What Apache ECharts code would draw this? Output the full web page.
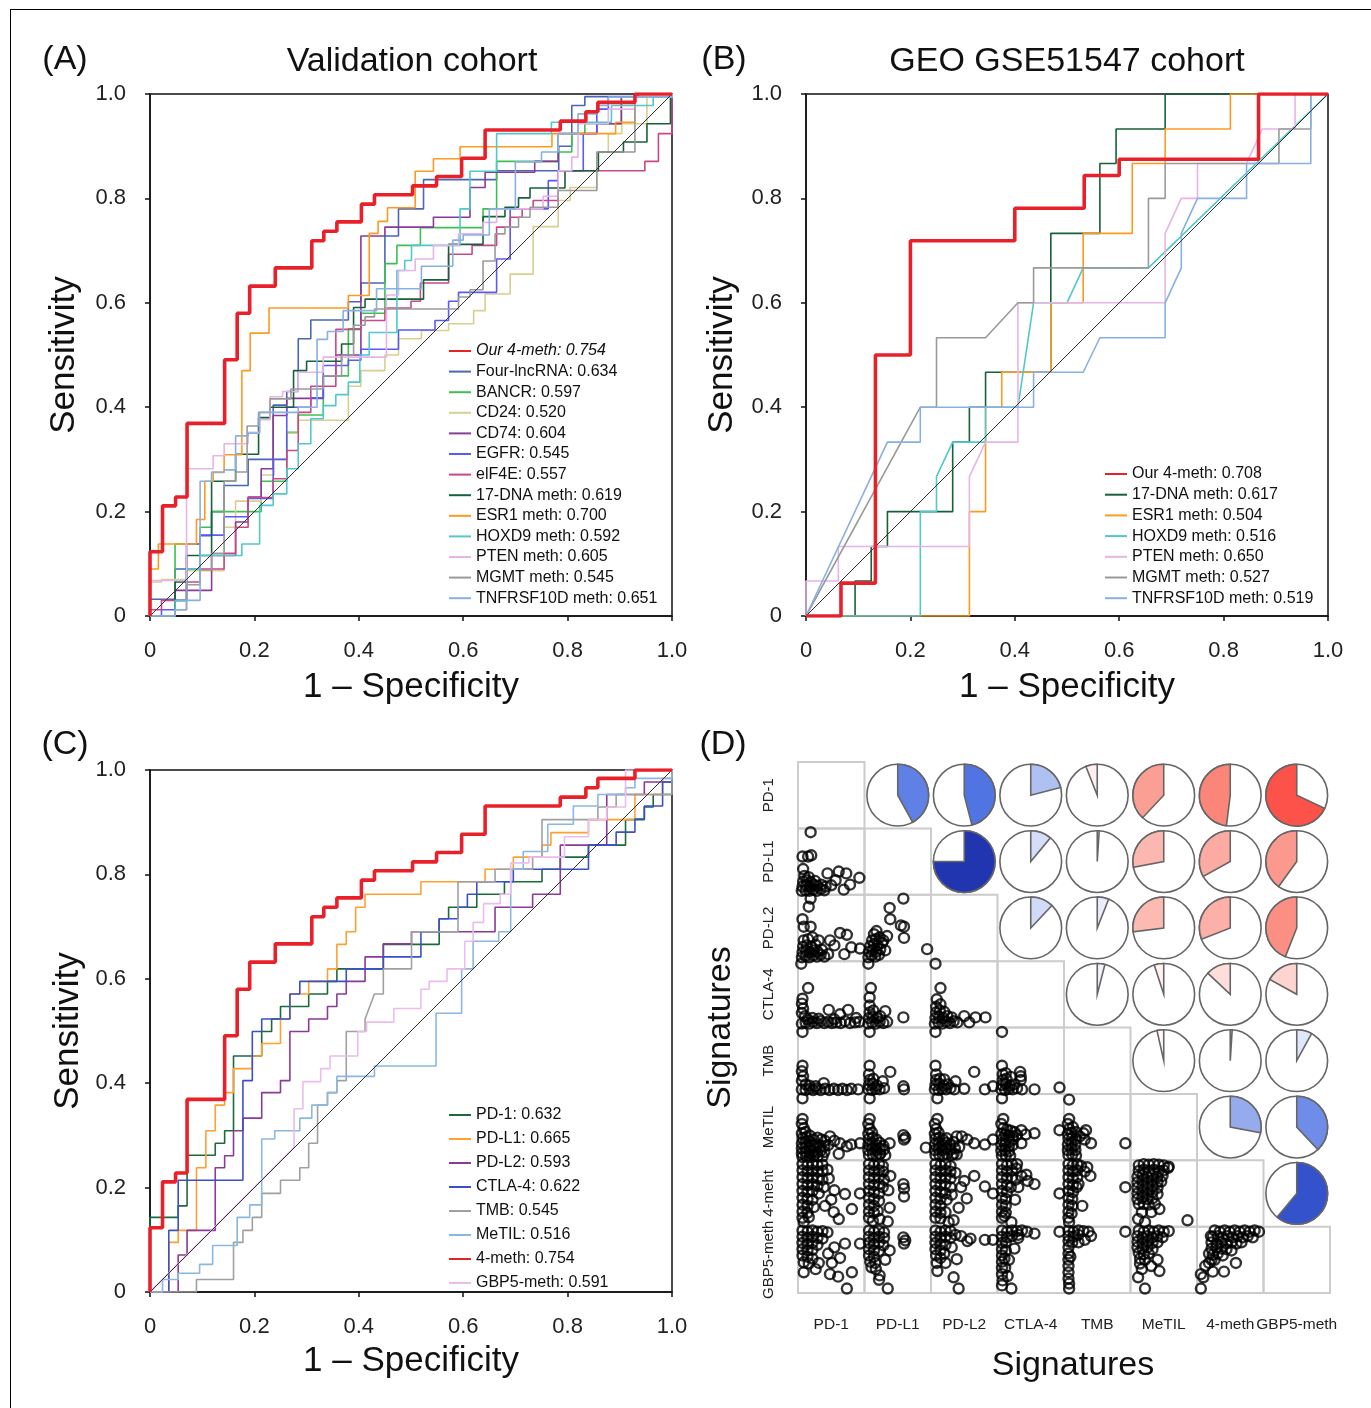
<!DOCTYPE html>
<html>
<head>
<meta charset="utf-8">
<script src="https://cdn.jsdelivr.net/npm/echarts@6/dist/echarts.min.js"></script>
<style>
  html, body { margin: 0; padding: 0; background: #fff; }
  #chart { width: 1371px; height: 1408px; }
  #frame { position: absolute; left: 10px; top: 9px; right: 0; bottom: 0;
           border-top: 1.5px solid #000; border-left: 1.5px solid #000; pointer-events: none; }
</style>
</head>
<body>
<div id="chart"></div>
<div id="frame"></div>
<script>
// ══════════════════════════════════════════════════════
// 数据：ROC 曲线（从图中读取的折线拐点）
// ══════════════════════════════════════════════════════
// 4-meth 曲线，(A)(C) 两幅共用
var curve4meth = [[0,0],[0,0.123],[0.024,0.123],[0.024,0.211],[0.049,0.211],[0.049,0.228],[0.071,0.228],[0.071,0.369],[0.143,0.369],[0.143,0.491],[0.167,0.491],[0.167,0.58],[0.191,0.58],[0.191,0.632],[0.24,0.632],[0.24,0.667],[0.31,0.667],[0.31,0.719],[0.333,0.719],[0.333,0.737],[0.358,0.737],[0.358,0.755],[0.405,0.755],[0.405,0.789],[0.43,0.789],[0.43,0.807],[0.503,0.807],[0.503,0.824],[0.549,0.824],[0.549,0.842],[0.597,0.842],[0.597,0.877],[0.642,0.877],[0.642,0.931],[0.786,0.931],[0.786,0.948],[0.835,0.948],[0.835,0.966],[0.858,0.966],[0.858,0.984],[0.929,0.984],[0.929,1],[1,1]];

// (A) Validation cohort
var aFourLnc = [[0,0],[0,0.032],[0.048,0.032],[0.048,0.09],[0.096,0.09],[0.096,0.154],[0.118,0.154],[0.118,0.2],[0.142,0.2],[0.142,0.25],[0.188,0.25],[0.188,0.3],[0.236,0.3],[0.236,0.404],[0.262,0.404],[0.262,0.43],[0.284,0.43],[0.284,0.531],[0.308,0.531],[0.308,0.567],[0.38,0.567],[0.38,0.602],[0.404,0.602],[0.404,0.638],[0.45,0.638],[0.45,0.728],[0.476,0.728],[0.476,0.78],[0.524,0.78],[0.524,0.836],[0.664,0.836],[0.664,0.853],[0.783,0.853],[0.783,0.9],[0.808,0.9],[0.808,0.978],[0.833,0.978],[0.833,0.995],[0.935,0.995],[0.935,1],[1,1]];
var aBANCR = [[0,0],[0.048,0],[0.048,0.138],[0.096,0.138],[0.096,0.17],[0.118,0.17],[0.118,0.2],[0.213,0.2],[0.213,0.258],[0.262,0.258],[0.262,0.352],[0.284,0.352],[0.284,0.385],[0.332,0.385],[0.332,0.46],[0.38,0.46],[0.38,0.55],[0.404,0.55],[0.404,0.58],[0.45,0.58],[0.45,0.675],[0.473,0.675],[0.473,0.71],[0.518,0.71],[0.518,0.744],[0.638,0.744],[0.638,0.78],[0.664,0.78],[0.664,0.871],[0.782,0.871],[0.782,0.889],[0.808,0.889],[0.808,0.924],[0.833,0.924],[0.833,0.943],[0.903,0.943],[0.903,0.994],[1,0.994],[1,1]];
var aCD24 = [[0,0],[0,0.065],[0.022,0.065],[0.022,0.07],[0.07,0.07],[0.07,0.087],[0.142,0.087],[0.142,0.17],[0.164,0.17],[0.164,0.22],[0.213,0.22],[0.213,0.27],[0.238,0.27],[0.238,0.3],[0.262,0.3],[0.262,0.35],[0.284,0.35],[0.284,0.375],[0.38,0.375],[0.38,0.44],[0.404,0.44],[0.404,0.47],[0.45,0.47],[0.45,0.5],[0.476,0.5],[0.476,0.531],[0.52,0.531],[0.52,0.547],[0.572,0.547],[0.572,0.56],[0.62,0.56],[0.62,0.585],[0.642,0.585],[0.642,0.617],[0.69,0.617],[0.69,0.655],[0.734,0.655],[0.734,0.746],[0.782,0.746],[0.782,0.796],[0.805,0.796],[0.805,0.821],[0.856,0.821],[0.856,0.889],[0.878,0.889],[0.878,0.924],[0.904,0.924],[0.904,0.943],[0.952,0.943],[0.952,0.994],[1,0.994],[1,1]];
var aCD74 = [[0,0],[0.048,0],[0.048,0.049],[0.118,0.049],[0.118,0.116],[0.164,0.116],[0.164,0.18],[0.188,0.18],[0.188,0.228],[0.213,0.228],[0.213,0.282],[0.236,0.282],[0.236,0.384],[0.262,0.384],[0.262,0.417],[0.332,0.417],[0.332,0.46],[0.356,0.46],[0.356,0.5],[0.404,0.5],[0.404,0.728],[0.45,0.728],[0.45,0.745],[0.543,0.745],[0.543,0.764],[0.613,0.764],[0.613,0.821],[0.642,0.821],[0.642,0.85],[0.737,0.85],[0.737,0.871],[0.782,0.871],[0.782,0.924],[0.856,0.924],[0.856,0.943],[0.903,0.943],[0.903,0.994],[1,0.994],[1,1]];
var aEGFR = [[0,0],[0.022,0],[0.022,0.012],[0.048,0.012],[0.048,0.03],[0.07,0.03],[0.07,0.138],[0.096,0.138],[0.096,0.155],[0.142,0.155],[0.142,0.19],[0.188,0.19],[0.188,0.225],[0.236,0.225],[0.236,0.3],[0.262,0.3],[0.262,0.4],[0.308,0.4],[0.308,0.418],[0.332,0.418],[0.332,0.48],[0.38,0.48],[0.38,0.49],[0.404,0.49],[0.404,0.511],[0.476,0.511],[0.476,0.548],[0.546,0.548],[0.546,0.566],[0.572,0.566],[0.572,0.603],[0.591,0.603],[0.591,0.62],[0.664,0.62],[0.664,0.684],[0.69,0.684],[0.69,0.78],[0.763,0.78],[0.763,0.834],[0.782,0.834],[0.782,0.853],[0.83,0.853],[0.83,0.924],[0.856,0.924],[0.856,0.971],[0.878,0.971],[0.878,0.994],[1,0.994],[1,1]];
var aEIF4E = [[0,0],[0,0.012],[0.022,0.012],[0.022,0.03],[0.07,0.03],[0.07,0.065],[0.096,0.065],[0.096,0.09],[0.142,0.09],[0.142,0.12],[0.164,0.12],[0.164,0.17],[0.188,0.17],[0.188,0.227],[0.236,0.227],[0.236,0.263],[0.262,0.263],[0.262,0.317],[0.284,0.317],[0.284,0.39],[0.308,0.39],[0.308,0.44],[0.356,0.44],[0.356,0.549],[0.404,0.549],[0.404,0.566],[0.45,0.566],[0.45,0.59],[0.5,0.59],[0.5,0.603],[0.518,0.603],[0.518,0.638],[0.572,0.638],[0.572,0.693],[0.617,0.693],[0.617,0.71],[0.664,0.71],[0.664,0.745],[0.69,0.745],[0.69,0.764],[0.713,0.764],[0.713,0.78],[0.734,0.78],[0.734,0.796],[0.782,0.796],[0.782,0.853],[0.948,0.853],[0.948,0.871],[0.974,0.871],[0.974,0.924],[1,0.924],[1,1]];
var aDNA17 = [[0,0],[0.048,0],[0.048,0.065],[0.07,0.065],[0.07,0.116],[0.118,0.116],[0.118,0.258],[0.164,0.258],[0.164,0.31],[0.208,0.31],[0.208,0.38],[0.23,0.38],[0.23,0.4],[0.275,0.4],[0.275,0.47],[0.3,0.47],[0.3,0.488],[0.367,0.488],[0.367,0.521],[0.39,0.521],[0.39,0.591],[0.412,0.591],[0.412,0.607],[0.524,0.607],[0.524,0.644],[0.572,0.644],[0.572,0.712],[0.638,0.712],[0.638,0.765],[0.68,0.765],[0.68,0.783],[0.706,0.783],[0.706,0.801],[0.728,0.801],[0.728,0.82],[0.795,0.82],[0.795,0.853],[0.859,0.853],[0.859,0.889],[0.907,0.889],[0.907,0.908],[0.952,0.908],[0.952,0.943],[0.997,0.943],[0.997,1],[1,1]];
var aESR1 = [[0,0],[0,0.09],[0.016,0.09],[0.016,0.138],[0.089,0.138],[0.089,0.185],[0.105,0.185],[0.105,0.258],[0.121,0.258],[0.121,0.275],[0.142,0.275],[0.142,0.309],[0.176,0.309],[0.176,0.47],[0.192,0.47],[0.192,0.542],[0.228,0.542],[0.228,0.59],[0.38,0.59],[0.38,0.614],[0.42,0.614],[0.42,0.733],[0.437,0.733],[0.437,0.756],[0.455,0.756],[0.455,0.782],[0.508,0.782],[0.508,0.852],[0.543,0.852],[0.543,0.876],[0.594,0.876],[0.594,0.899],[0.77,0.899],[0.77,0.924],[0.892,0.924],[0.892,0.946],[0.929,0.946],[0.929,0.994],[1,0.994],[1,1]];
var aHOXD9 = [[0,0],[0.048,0],[0.048,0.03],[0.07,0.03],[0.07,0.09],[0.096,0.09],[0.096,0.116],[0.176,0.116],[0.176,0.138],[0.21,0.138],[0.21,0.212],[0.236,0.212],[0.236,0.234],[0.262,0.234],[0.262,0.282],[0.284,0.282],[0.284,0.33],[0.308,0.33],[0.308,0.378],[0.332,0.378],[0.332,0.403],[0.356,0.403],[0.356,0.424],[0.38,0.424],[0.38,0.448],[0.402,0.448],[0.402,0.5],[0.42,0.5],[0.42,0.543],[0.473,0.543],[0.473,0.662],[0.488,0.662],[0.488,0.681],[0.501,0.681],[0.501,0.71],[0.594,0.71],[0.594,0.78],[0.613,0.78],[0.613,0.852],[0.664,0.852],[0.664,0.924],[0.769,0.924],[0.769,0.946],[0.884,0.946],[0.884,0.978],[0.964,0.978],[0.964,0.994],[1,0.994],[1,1]];
var aPTEN = [[0,0],[0,0.068],[0.07,0.068],[0.07,0.282],[0.121,0.282],[0.121,0.307],[0.142,0.307],[0.142,0.33],[0.188,0.33],[0.188,0.352],[0.21,0.352],[0.21,0.376],[0.23,0.376],[0.23,0.42],[0.254,0.42],[0.254,0.43],[0.284,0.43],[0.284,0.467],[0.332,0.467],[0.332,0.496],[0.453,0.496],[0.453,0.615],[0.476,0.615],[0.476,0.662],[0.508,0.662],[0.508,0.684],[0.543,0.684],[0.543,0.71],[0.591,0.71],[0.591,0.732],[0.638,0.732],[0.638,0.754],[0.664,0.754],[0.664,0.78],[0.753,0.78],[0.753,0.804],[0.782,0.804],[0.782,0.853],[0.808,0.853],[0.808,0.879],[0.82,0.879],[0.82,0.943],[0.878,0.943],[0.878,0.971],[0.929,0.971],[0.929,0.994],[1,0.994],[1,1]];
var aMGMT = [[0,0],[0.048,0],[0.048,0.012],[0.07,0.012],[0.07,0.06],[0.096,0.06],[0.096,0.088],[0.118,0.088],[0.118,0.12],[0.142,0.12],[0.142,0.258],[0.164,0.258],[0.164,0.276],[0.186,0.276],[0.186,0.364],[0.208,0.364],[0.208,0.39],[0.23,0.39],[0.23,0.416],[0.27,0.416],[0.27,0.435],[0.332,0.435],[0.332,0.46],[0.367,0.46],[0.367,0.5],[0.39,0.5],[0.39,0.557],[0.412,0.557],[0.412,0.573],[0.43,0.573],[0.43,0.588],[0.591,0.588],[0.591,0.611],[0.613,0.611],[0.613,0.625],[0.638,0.625],[0.638,0.68],[0.661,0.68],[0.661,0.732],[0.68,0.732],[0.68,0.745],[0.706,0.745],[0.706,0.764],[0.728,0.764],[0.728,0.783],[0.782,0.783],[0.782,0.815],[0.856,0.815],[0.856,0.889],[0.929,0.889],[0.929,0.994],[1,0.994],[1,1]];
var aTNF = [[0,0],[0.048,0],[0.048,0.012],[0.07,0.012],[0.07,0.03],[0.096,0.03],[0.096,0.258],[0.118,0.258],[0.118,0.276],[0.142,0.276],[0.142,0.28],[0.164,0.28],[0.164,0.345],[0.188,0.345],[0.188,0.35],[0.21,0.35],[0.21,0.39],[0.284,0.39],[0.284,0.4],[0.32,0.4],[0.32,0.53],[0.34,0.53],[0.34,0.545],[0.37,0.545],[0.37,0.585],[0.434,0.585],[0.434,0.627],[0.52,0.627],[0.52,0.67],[0.58,0.67],[0.58,0.72],[0.6,0.72],[0.6,0.73],[0.65,0.73],[0.65,0.78],[0.7,0.78],[0.7,0.87],[0.75,0.87],[0.75,0.889],[0.782,0.889],[0.782,0.924],[0.82,0.924],[0.82,0.962],[0.856,0.962],[0.856,0.978],[0.878,0.978],[0.878,0.994],[1,0.994],[1,1]];

// (B) GEO GSE51547 cohort
var bOur4meth = [[0,0],[0.067,0],[0.067,0.063],[0.133,0.063],[0.133,0.5],[0.2,0.5],[0.2,0.719],[0.4,0.719],[0.4,0.781],[0.533,0.781],[0.533,0.844],[0.6,0.844],[0.6,0.875],[0.867,0.875],[0.867,1],[1,1]];
var bDNA17 = [[0,0],[0.094,0],[0.094,0.067],[0.125,0.067],[0.125,0.133],[0.156,0.133],[0.156,0.2],[0.281,0.2],[0.281,0.333],[0.313,0.333],[0.313,0.4],[0.344,0.4],[0.344,0.467],[0.469,0.467],[0.469,0.733],[0.563,0.733],[0.563,0.867],[0.594,0.867],[0.594,0.933],[0.688,0.933],[0.688,1],[1,1]];
var bESR1 = [[0,0],[0.313,0],[0.313,0.2],[0.344,0.2],[0.344,0.4],[0.375,0.4],[0.375,0.467],[0.469,0.467],[0.469,0.6],[0.531,0.6],[0.531,0.733],[0.625,0.733],[0.625,0.867],[0.688,0.867],[0.688,0.933],[0.813,0.933],[0.813,1],[1,1]];
var bHOXD9 = [[0,0],[0.219,0],[0.219,0.2],[0.25,0.2],[0.25,0.267],[0.281,0.333],[0.344,0.333],[0.344,0.4],[0.406,0.4],[0.436,0.6],[0.5,0.6],[0.531,0.667],[0.656,0.667],[1,1]];
var bPTEN = [[0,0],[0,0.067],[0.062,0.067],[0.062,0.133],[0.313,0.133],[0.313,0.267],[0.344,0.333],[0.406,0.333],[0.406,0.6],[0.688,0.6],[0.688,0.733],[0.719,0.8],[0.75,0.8],[0.75,0.867],[0.844,0.867],[0.874,0.933],[0.937,0.933],[0.937,1],[1,1]];
var bMGMT = [[0,0],[0.219,0.4],[0.25,0.4],[0.25,0.533],[0.344,0.533],[0.406,0.6],[0.436,0.6],[0.436,0.667],[0.656,0.667],[0.656,0.8],[0.688,0.8],[0.688,0.867],[0.906,0.867],[0.906,0.933],[0.967,0.933],[0.967,1],[1,1]];
var bTNF = [[0,0],[0.156,0.333],[0.219,0.333],[0.219,0.4],[0.436,0.4],[0.436,0.467],[0.531,0.467],[0.563,0.533],[0.688,0.533],[0.688,0.6],[0.719,0.667],[0.719,0.733],[0.75,0.8],[0.844,0.8],[0.844,0.867],[0.967,0.867],[0.967,1],[1,1]];

// (C) 免疫检查点对比
var cPD1 = [[0,0],[0,0.143],[0.054,0.143],[0.054,0.165],[0.071,0.165],[0.071,0.262],[0.125,0.262],[0.125,0.285],[0.143,0.285],[0.143,0.309],[0.16,0.309],[0.16,0.452],[0.214,0.452],[0.214,0.499],[0.233,0.499],[0.233,0.523],[0.25,0.523],[0.25,0.547],[0.304,0.547],[0.304,0.571],[0.34,0.571],[0.34,0.595],[0.358,0.595],[0.358,0.619],[0.447,0.619],[0.447,0.666],[0.554,0.666],[0.554,0.715],[0.572,0.715],[0.572,0.737],[0.626,0.737],[0.626,0.762],[0.679,0.762],[0.679,0.786],[0.751,0.786],[0.751,0.81],[0.786,0.81],[0.786,0.833],[0.84,0.833],[0.84,0.856],[0.911,0.856],[0.911,0.905],[0.947,0.905],[0.947,0.929],[0.964,0.929],[0.964,0.953],[1,0.953],[1,1]];
var cPDL1 = [[0,0],[0.036,0],[0.036,0.095],[0.054,0.095],[0.054,0.118],[0.089,0.118],[0.089,0.238],[0.107,0.238],[0.107,0.309],[0.125,0.309],[0.125,0.358],[0.143,0.358],[0.143,0.382],[0.16,0.382],[0.16,0.428],[0.196,0.428],[0.196,0.452],[0.214,0.452],[0.214,0.476],[0.25,0.476],[0.25,0.523],[0.268,0.523],[0.268,0.571],[0.304,0.571],[0.304,0.595],[0.34,0.595],[0.34,0.619],[0.358,0.619],[0.358,0.666],[0.376,0.666],[0.376,0.69],[0.394,0.69],[0.394,0.737],[0.412,0.737],[0.412,0.762],[0.519,0.762],[0.519,0.786],[0.642,0.786],[0.642,0.81],[0.696,0.81],[0.696,0.833],[0.751,0.833],[0.751,0.856],[0.768,0.856],[0.768,0.88],[0.84,0.88],[0.84,0.905],[0.929,0.905],[0.929,0.953],[0.982,0.953],[0.982,0.984],[1,0.984],[1,1]];
var cPDL2 = [[0,0],[0.054,0],[0.054,0.071],[0.071,0.071],[0.071,0.118],[0.125,0.118],[0.125,0.238],[0.143,0.238],[0.143,0.261],[0.16,0.261],[0.16,0.309],[0.178,0.309],[0.178,0.333],[0.214,0.333],[0.214,0.382],[0.25,0.382],[0.25,0.405],[0.268,0.405],[0.268,0.499],[0.304,0.499],[0.304,0.523],[0.34,0.523],[0.34,0.547],[0.358,0.547],[0.358,0.571],[0.376,0.571],[0.376,0.595],[0.412,0.595],[0.412,0.642],[0.447,0.642],[0.447,0.667],[0.501,0.667],[0.501,0.69],[0.661,0.69],[0.661,0.737],[0.733,0.737],[0.733,0.762],[0.786,0.762],[0.786,0.856],[0.875,0.856],[0.875,0.953],[0.947,0.953],[0.947,0.977],[1,0.977],[1,1]];
var cCTLA4 = [[0,0],[0.036,0],[0.036,0.118],[0.054,0.118],[0.054,0.214],[0.178,0.214],[0.178,0.405],[0.196,0.405],[0.196,0.499],[0.214,0.499],[0.214,0.523],[0.268,0.523],[0.268,0.571],[0.287,0.571],[0.287,0.595],[0.376,0.595],[0.376,0.619],[0.447,0.619],[0.447,0.642],[0.519,0.642],[0.519,0.69],[0.554,0.69],[0.554,0.715],[0.59,0.715],[0.59,0.737],[0.608,0.737],[0.608,0.762],[0.626,0.762],[0.626,0.786],[0.696,0.786],[0.696,0.81],[0.84,0.81],[0.84,0.856],[0.893,0.856],[0.893,0.881],[0.929,0.881],[0.929,0.906],[0.947,0.906],[0.947,0.931],[0.982,0.931],[0.982,0.977],[1,0.977],[1,1]];
var cTMB = [[0,0],[0.089,0],[0.089,0.024],[0.16,0.024],[0.16,0.095],[0.178,0.095],[0.178,0.118],[0.196,0.118],[0.196,0.143],[0.214,0.143],[0.214,0.189],[0.25,0.189],[0.25,0.214],[0.287,0.214],[0.287,0.238],[0.304,0.238],[0.304,0.285],[0.321,0.285],[0.321,0.358],[0.34,0.358],[0.34,0.382],[0.358,0.382],[0.358,0.405],[0.376,0.405],[0.376,0.499],[0.412,0.499],[0.412,0.523],[0.43,0.571],[0.447,0.571],[0.447,0.619],[0.501,0.619],[0.501,0.69],[0.59,0.69],[0.59,0.786],[0.661,0.786],[0.661,0.81],[0.733,0.81],[0.733,0.833],[0.751,0.833],[0.751,0.905],[0.858,0.905],[0.858,0.929],[0.893,0.929],[0.893,0.953],[1,0.953],[1,1]];
var cMeTIL = [[0,0],[0.024,0],[0.024,0.024],[0.054,0.024],[0.054,0.036],[0.095,0.036],[0.095,0.053],[0.12,0.053],[0.12,0.089],[0.167,0.089],[0.167,0.143],[0.191,0.143],[0.191,0.167],[0.214,0.167],[0.214,0.293],[0.239,0.293],[0.239,0.309],[0.287,0.309],[0.287,0.333],[0.31,0.333],[0.31,0.358],[0.34,0.358],[0.34,0.382],[0.358,0.382],[0.358,0.413],[0.43,0.413],[0.43,0.433],[0.548,0.433],[0.548,0.534],[0.597,0.534],[0.597,0.619],[0.619,0.619],[0.619,0.672],[0.668,0.672],[0.668,0.69],[0.691,0.69],[0.691,0.81],[0.715,0.81],[0.715,0.844],[0.762,0.844],[0.762,0.896],[0.811,0.896],[0.811,0.931],[0.858,0.931],[0.858,0.953],[0.911,0.953],[0.911,0.966],[0.929,0.966],[0.929,0.984],[1,0.984],[1,1]];
var cGBP5 = [[0,0],[0.276,0.277],[0.276,0.351],[0.293,0.351],[0.293,0.403],[0.327,0.403],[0.327,0.428],[0.345,0.428],[0.345,0.452],[0.398,0.452],[0.398,0.499],[0.415,0.499],[0.415,0.517],[0.467,0.517],[0.467,0.543],[0.519,0.543],[0.519,0.58],[0.535,0.58],[0.535,0.595],[0.569,0.595],[0.569,0.619],[0.603,0.619],[0.603,0.672],[0.619,0.672],[0.619,0.708],[0.639,0.708],[0.639,0.744],[0.671,0.744],[0.671,0.762],[0.691,0.762],[0.691,0.822],[0.726,0.822],[0.726,0.833],[0.794,0.833],[0.794,0.872],[0.84,0.872],[0.84,0.905],[0.875,0.905],[0.875,0.929],[0.911,0.929],[0.911,1],[1,1]];

// 图例名称与 AUC
var namesA = ["Our 4-meth", "Four-lncRNA", "BANCR", "CD24", "CD74", "EGFR", "elF4E", "17-DNA meth", "ESR1 meth", "HOXD9 meth", "PTEN meth", "MGMT meth", "TNFRSF10D meth"];
var aucA = ["0.754", "0.634", "0.597", "0.520", "0.604", "0.545", "0.557", "0.619", "0.700", "0.592", "0.605", "0.545", "0.651"];
var namesB = ["Our 4-meth", "17-DNA meth", "ESR1 meth", "HOXD9 meth", "PTEN meth", "MGMT meth", "TNFRSF10D meth"];
var aucB = ["0.708", "0.617", "0.504", "0.516", "0.650", "0.527", "0.519"];
var namesC = ["PD-1", "PD-L1", "PD-L2", "CTLA-4", "TMB", "MeTIL", "4-meth", "GBP5-meth"];
var aucC = ["0.632", "0.665", "0.593", "0.622", "0.545", "0.516", "0.754", "0.591"];

// ══════════════════════════════════════════════════════
// 数据：(D) 相关矩阵
// ══════════════════════════════════════════════════════
var signatures = ["PD-1", "PD-L1", "PD-L2", "CTLA-4", "TMB", "MeTIL", "4-meth", "GBP5-meth"];
var rowLabels = ["PD-1", "PD-L1", "PD-L2", "CTLA-4", "TMB", "MeTIL", "4-meht", "GBP5-meth"];
// 上三角：每行从对角线右侧开始的相关系数
var corrPD1 = [0.42, 0.46, 0.21, -0.06, -0.38, -0.48, -0.68];
var corrPDL1 = [0.75, 0.11, 0.01, -0.28, -0.33, -0.40];
var corrPDL2 = [0.12, 0.06, -0.27, -0.31, -0.44];
var corrCTLA4 = [0.04, -0.05, -0.13, -0.17];
var corrTMB = [-0.035, 0.01, 0.08];
var corrMeTIL = [0.28, 0.38];
var corr4meth = [0.61];

// 下三角散点（格内坐标 0..1，u 向右，v 向上），每行从第一列开始
var scatPDL1 = [
  [[0.17,0.97],[0.04,0.58],[0.13,0.58],[0.18,0.6],[0.05,0.38],[0.44,0.31],[0.62,0.34],[0.74,0.31],[0.57,0.2],[0.8,0.13],[0.95,0.24],[0.7,0.05],[0.5,0.12],[0.03,0.03],[0.09,0.04],[0.15,0.03],[0.21,0.05],[0.27,0.03],[0.33,0.06],[0.39,0.04],[0.04,0.1],[0.1,0.12],[0.16,0.1],[0.22,0.13],[0.28,0.11],[0.34,0.13],[0.05,0.18],[0.11,0.2],[0.17,0.17],[0.24,0.19],[0.07,0.27],[0.14,0.25],[0.41,0.1]]
];
var scatPDL2 = [
  [[0.17,0.97],[0.14,0.84],[0.04,0.64],[0.06,0.52],[0.17,0.52],[0.64,0.42],[0.75,0.39],[0.48,0.3],[0.82,0.19],[0.71,0.08],[0.96,0.17],[0.55,0.22],[0.03,0.03],[0.09,0.05],[0.15,0.03],[0.21,0.06],[0.27,0.04],[0.33,0.07],[0.39,0.04],[0.45,0.08],[0.04,0.11],[0.1,0.13],[0.16,0.11],[0.22,0.14],[0.28,0.12],[0.35,0.15],[0.05,0.2],[0.11,0.22],[0.18,0.2],[0.25,0.23],[0.06,0.3],[0.13,0.32],[0.2,0.35],[0.3,0.3]],
  [[0.59,0.97],[0.37,0.82],[0.38,0.64],[0.55,0.54],[0.6,0.52],[0.6,0.34],[0.97,0.16],[0.16,0.45],[0.33,0.37],[0.3,0.14],[0.03,0.03],[0.08,0.06],[0.14,0.04],[0.2,0.07],[0.04,0.12],[0.1,0.14],[0.16,0.12],[0.22,0.16],[0.06,0.21],[0.12,0.23],[0.18,0.22],[0.25,0.26],[0.09,0.3],[0.15,0.32],[0.21,0.35],[0.27,0.3],[0.12,0.4]]
];
var scatCTLA4 = [
  [[0.02,0.99],[0.13,0.6],[0.04,0.43],[0.77,0.25],[0.46,0.25],[0.64,0.18],[0.9,0.12],[0.55,0.1],[0.03,0.35],[0.05,0.27],[0.03,0.2],[0.08,0.15],[0.03,0.03],[0.09,0.05],[0.15,0.03],[0.21,0.06],[0.27,0.04],[0.33,0.07],[0.39,0.04],[0.45,0.06],[0.51,0.04],[0.58,0.05],[0.65,0.04],[0.72,0.07],[0.8,0.04],[0.88,0.05],[0.95,0.06],[0.12,0.1],[0.2,0.12],[0.3,0.11]],
  [[0.03,0.99],[0.07,0.6],[0.3,0.23],[0.59,0.13],[0.05,0.45],[0.03,0.03],[0.09,0.05],[0.15,0.03],[0.21,0.06],[0.27,0.04],[0.33,0.06],[0.04,0.12],[0.1,0.14],[0.17,0.12],[0.05,0.21],[0.11,0.24],[0.05,0.32],[0.22,0.15]],
  [[0.04,0.99],[0.12,0.6],[0.84,0.13],[0.68,0.13],[0.5,0.15],[0.58,0.05],[0.03,0.03],[0.09,0.05],[0.15,0.03],[0.21,0.06],[0.27,0.04],[0.33,0.07],[0.39,0.05],[0.04,0.12],[0.1,0.14],[0.16,0.12],[0.23,0.15],[0.3,0.13],[0.05,0.21],[0.11,0.24],[0.18,0.22],[0.05,0.3],[0.12,0.34],[0.06,0.42]]
];
var scatTMB = [
  [[0.04,0.96],[0.04,0.42],[0.38,0.14],[0.93,0.04],[0.03,0.33],[0.05,0.25],[0.03,0.18],[0.09,0.12],[0.03,0.04],[0.09,0.03],[0.15,0.05],[0.21,0.03],[0.27,0.05],[0.33,0.03],[0.4,0.05],[0.47,0.03],[0.54,0.05],[0.61,0.03],[0.68,0.05],[0.75,0.03],[0.82,0.05],[0.15,0.1],[0.25,0.09]],
  [[0.05,0.96],[0.05,0.42],[0.38,0.32],[0.26,0.17],[0.59,0.09],[0.6,0.04],[0.03,0.04],[0.09,0.03],[0.15,0.05],[0.21,0.04],[0.28,0.06],[0.04,0.11],[0.1,0.13],[0.17,0.1],[0.05,0.19],[0.11,0.21],[0.04,0.28]],
  [[0.04,0.96],[0.04,0.42],[0.66,0.32],[0.36,0.17],[0.83,0.04],[0.96,0.09],[0.5,0.05],[0.03,0.04],[0.09,0.03],[0.15,0.05],[0.21,0.04],[0.28,0.06],[0.34,0.04],[0.04,0.11],[0.1,0.13],[0.17,0.1],[0.24,0.12],[0.05,0.19],[0.11,0.21],[0.18,0.2],[0.05,0.28]],
  [[0.04,0.96],[0.04,0.42],[0.33,0.32],[0.34,0.19],[0.34,0.25],[0.56,0.04],[0.96,0.07],[0.03,0.04],[0.09,0.03],[0.15,0.05],[0.21,0.04],[0.28,0.06],[0.36,0.04],[0.04,0.11],[0.1,0.13],[0.17,0.1],[0.24,0.12],[0.05,0.19],[0.11,0.21],[0.18,0.24],[0.05,0.28],[0.1,0.3]]
];
var scatMeTIL = [
  [[0.04,0.96],[0.04,0.63],[0.48,0.35],[0.64,0.24],[0.75,0.19],[0.82,0.22],[0.96,0.24],[0.62,0.07],[0.55,0.28],[0.03,0.55],[0.06,0.48],[0.03,0.4],[0.09,0.42],[0.04,0.32],[0.1,0.34],[0.16,0.36],[0.03,0.24],[0.09,0.26],[0.15,0.27],[0.22,0.3],[0.28,0.33],[0.34,0.3],[0.4,0.28],[0.03,0.16],[0.09,0.18],[0.15,0.17],[0.21,0.2],[0.27,0.22],[0.33,0.2],[0.39,0.19],[0.45,0.21],[0.03,0.08],[0.09,0.1],[0.15,0.08],[0.21,0.11],[0.27,0.09],[0.33,0.12],[0.39,0.1],[0.04,0.02],[0.1,0.03],[0.16,0.02],[0.22,0.04],[0.28,0.03],[0.36,0.03]],
  [[0.05,0.96],[0.05,0.63],[0.59,0.37],[0.6,0.3],[0.62,0.33],[0.37,0.24],[0.21,0.07],[0.95,0.17],[0.03,0.55],[0.05,0.47],[0.03,0.39],[0.09,0.41],[0.04,0.31],[0.1,0.33],[0.16,0.3],[0.03,0.22],[0.09,0.24],[0.15,0.22],[0.21,0.25],[0.27,0.2],[0.03,0.13],[0.09,0.15],[0.15,0.13],[0.21,0.16],[0.28,0.14],[0.04,0.05],[0.1,0.06],[0.16,0.04],[0.22,0.07],[0.3,0.05]],
  [[0.07,0.96],[0.07,0.63],[0.38,0.35],[0.46,0.35],[0.66,0.24],[0.83,0.22],[0.96,0.3],[0.33,0.07],[0.55,0.3],[0.03,0.55],[0.05,0.47],[0.03,0.39],[0.09,0.41],[0.04,0.31],[0.1,0.33],[0.16,0.3],[0.22,0.32],[0.03,0.22],[0.09,0.24],[0.15,0.22],[0.21,0.25],[0.27,0.22],[0.33,0.26],[0.03,0.13],[0.09,0.15],[0.15,0.13],[0.21,0.16],[0.28,0.14],[0.35,0.16],[0.42,0.18],[0.04,0.05],[0.1,0.06],[0.16,0.04],[0.22,0.07],[0.3,0.05],[0.38,0.06]],
  [[0.04,0.96],[0.06,0.63],[0.35,0.45],[0.56,0.4],[0.35,0.24],[0.96,0.45],[0.42,0.38],[0.03,0.55],[0.06,0.48],[0.12,0.46],[0.18,0.44],[0.24,0.42],[0.03,0.39],[0.09,0.38],[0.15,0.36],[0.21,0.35],[0.28,0.37],[0.04,0.3],[0.1,0.29],[0.16,0.27],[0.22,0.3],[0.03,0.21],[0.09,0.22],[0.15,0.19],[0.21,0.21],[0.03,0.12],[0.09,0.13],[0.15,0.11],[0.04,0.04],[0.1,0.05],[0.17,0.04]],
  [[0.05,0.94],[0.05,0.63],[0.32,0.45],[0.4,0.24],[0.95,0.24],[0.28,0.4],[0.3,0.3],[0.03,0.55],[0.05,0.47],[0.11,0.5],[0.03,0.39],[0.09,0.41],[0.16,0.42],[0.04,0.31],[0.1,0.33],[0.16,0.31],[0.22,0.35],[0.03,0.22],[0.09,0.24],[0.15,0.22],[0.03,0.13],[0.09,0.15],[0.15,0.13],[0.04,0.05],[0.1,0.06],[0.16,0.04]]
];
var scat4meth = [
  [[0.46,0.74],[0.72,0.49],[0.96,0.5],[0.54,0.2],[0.83,0.25],[0.62,0.09],[0.06,0.04],[0.5,0.4],[0.55,0.55],[0.4,0.3],[0.04,0.97],[0.12,0.95],[0.2,0.97],[0.28,0.95],[0.36,0.96],[0.04,0.87],[0.12,0.85],[0.2,0.87],[0.28,0.85],[0.36,0.86],[0.44,0.88],[0.04,0.76],[0.12,0.74],[0.2,0.76],[0.28,0.74],[0.36,0.72],[0.04,0.65],[0.12,0.63],[0.2,0.65],[0.28,0.62],[0.38,0.6],[0.04,0.54],[0.12,0.52],[0.2,0.54],[0.3,0.5],[0.04,0.43],[0.12,0.41],[0.2,0.4],[0.04,0.32],[0.12,0.3],[0.22,0.28],[0.04,0.21],[0.12,0.19],[0.04,0.11],[0.14,0.12]],
  [[0.38,0.78],[0.59,0.65],[0.6,0.45],[0.37,0.27],[0.21,0.09],[0.34,0.05],[0.6,0.58],[0.35,0.55],[0.04,0.97],[0.12,0.95],[0.2,0.97],[0.26,0.94],[0.04,0.87],[0.12,0.85],[0.2,0.87],[0.27,0.85],[0.04,0.76],[0.12,0.74],[0.2,0.76],[0.28,0.72],[0.04,0.65],[0.12,0.63],[0.2,0.65],[0.26,0.6],[0.04,0.54],[0.12,0.52],[0.2,0.5],[0.04,0.43],[0.12,0.41],[0.2,0.38],[0.04,0.32],[0.12,0.3],[0.04,0.21],[0.12,0.19],[0.18,0.22],[0.04,0.11],[0.1,0.06]],
  [[0.66,0.78],[0.83,0.61],[0.54,0.42],[0.41,0.27],[0.33,0.07],[0.96,0.5],[0.25,0.04],[0.5,0.7],[0.45,0.6],[0.04,0.97],[0.12,0.95],[0.2,0.97],[0.28,0.94],[0.04,0.87],[0.12,0.85],[0.2,0.87],[0.28,0.85],[0.36,0.83],[0.04,0.76],[0.12,0.74],[0.2,0.76],[0.28,0.74],[0.04,0.65],[0.12,0.63],[0.2,0.65],[0.28,0.6],[0.04,0.54],[0.12,0.52],[0.2,0.5],[0.3,0.48],[0.04,0.43],[0.12,0.41],[0.22,0.4],[0.04,0.32],[0.12,0.3],[0.04,0.21],[0.12,0.19],[0.2,0.2],[0.04,0.11],[0.12,0.1]],
  [[0.27,0.9],[0.35,0.78],[0.43,0.8],[0.56,0.65],[0.25,0.4],[0.19,0.04],[0.96,0.5],[0.3,0.6],[0.45,0.7],[0.04,0.97],[0.12,0.95],[0.2,0.97],[0.28,0.97],[0.04,0.87],[0.12,0.85],[0.2,0.87],[0.04,0.76],[0.12,0.74],[0.2,0.76],[0.26,0.72],[0.04,0.65],[0.12,0.63],[0.18,0.6],[0.04,0.54],[0.12,0.52],[0.04,0.43],[0.1,0.41],[0.04,0.32],[0.1,0.3],[0.04,0.21],[0.1,0.19],[0.04,0.11],[0.08,0.14]],
  [[0.34,0.92],[0.39,0.78],[0.26,0.3],[0.95,0.6],[0.05,0.04],[0.2,0.65],[0.3,0.85],[0.04,0.97],[0.11,0.95],[0.18,0.97],[0.24,0.94],[0.04,0.87],[0.11,0.85],[0.18,0.87],[0.04,0.76],[0.11,0.74],[0.18,0.76],[0.04,0.65],[0.11,0.63],[0.17,0.6],[0.04,0.54],[0.11,0.52],[0.04,0.43],[0.1,0.41],[0.04,0.32],[0.1,0.3],[0.04,0.21],[0.09,0.18],[0.04,0.11]],
  [[0.43,0.25],[0.09,0.09],[0.2,0.04],[0.88,0.07],[0.57,0.91],[0.3,0.2],[0.15,0.2],[0.1,0.95],[0.18,0.97],[0.26,0.96],[0.34,0.97],[0.42,0.96],[0.5,0.95],[0.58,0.93],[0.1,0.86],[0.18,0.88],[0.26,0.86],[0.34,0.88],[0.42,0.86],[0.5,0.87],[0.08,0.77],[0.16,0.79],[0.24,0.77],[0.32,0.79],[0.4,0.77],[0.48,0.78],[0.08,0.68],[0.16,0.7],[0.24,0.68],[0.32,0.7],[0.4,0.68],[0.46,0.69],[0.08,0.59],[0.16,0.61],[0.24,0.59],[0.32,0.61],[0.4,0.59],[0.08,0.5],[0.16,0.52],[0.24,0.5],[0.32,0.52],[0.4,0.49],[0.08,0.41],[0.16,0.43],[0.24,0.41],[0.32,0.42],[0.1,0.33],[0.18,0.33],[0.26,0.32],[0.36,0.33]]
];
var scatGBP5 = [
  [[0.72,0.76],[0.96,0.76],[0.51,0.45],[0.64,0.53],[0.06,0.3],[0.48,0.27],[0.61,0.23],[0.83,0.3],[0.75,0.04],[0.45,0.6],[0.55,0.7],[0.25,0.35],[0.3,0.45],[0.04,0.97],[0.12,0.95],[0.2,0.97],[0.28,0.95],[0.36,0.96],[0.44,0.94],[0.04,0.87],[0.12,0.85],[0.2,0.87],[0.28,0.85],[0.36,0.84],[0.04,0.77],[0.12,0.75],[0.2,0.77],[0.28,0.74],[0.04,0.67],[0.12,0.65],[0.2,0.66],[0.04,0.57],[0.12,0.55],[0.2,0.52],[0.06,0.46],[0.14,0.44]],
  [[0.59,0.86],[0.6,0.76],[0.62,0.81],[0.37,0.65],[0.21,0.25],[0.34,0.04],[0.3,0.5],[0.15,0.35],[0.2,0.18],[0.04,0.97],[0.12,0.95],[0.2,0.97],[0.28,0.94],[0.04,0.87],[0.12,0.85],[0.2,0.87],[0.28,0.85],[0.04,0.77],[0.12,0.75],[0.2,0.77],[0.27,0.73],[0.04,0.67],[0.12,0.65],[0.2,0.64],[0.04,0.57],[0.12,0.55],[0.06,0.47],[0.14,0.45],[0.08,0.38]],
  [[0.36,0.9],[0.45,0.88],[0.6,0.84],[0.55,0.8],[0.83,0.82],[0.96,0.82],[0.38,0.51],[0.07,0.32],[0.33,0.22],[0.41,0.04],[0.3,0.7],[0.2,0.45],[0.04,0.97],[0.12,0.95],[0.2,0.97],[0.28,0.96],[0.04,0.87],[0.12,0.85],[0.2,0.87],[0.28,0.85],[0.04,0.77],[0.12,0.75],[0.2,0.74],[0.04,0.67],[0.12,0.65],[0.18,0.6],[0.05,0.57],[0.12,0.53],[0.06,0.45]],
  [[0.56,0.92],[0.24,0.68],[0.09,0.37],[0.13,0.24],[0.19,0.04],[0.96,0.95],[0.3,0.85],[0.15,0.5],[0.04,0.97],[0.12,0.95],[0.2,0.97],[0.28,0.96],[0.36,0.97],[0.44,0.95],[0.04,0.87],[0.12,0.86],[0.2,0.88],[0.3,0.9],[0.04,0.77],[0.1,0.78],[0.04,0.67],[0.1,0.65],[0.04,0.57],[0.08,0.52],[0.04,0.47],[0.04,0.37],[0.04,0.27],[0.05,0.17],[0.04,0.09]],
  [[0.4,0.88],[0.95,0.95],[0.05,0.04],[0.2,0.78],[0.3,0.82],[0.04,0.97],[0.12,0.95],[0.2,0.97],[0.28,0.96],[0.36,0.95],[0.04,0.88],[0.12,0.87],[0.2,0.9],[0.04,0.8],[0.1,0.78],[0.04,0.7],[0.04,0.6],[0.07,0.55],[0.04,0.5],[0.04,0.4],[0.04,0.3],[0.04,0.2],[0.05,0.12]],
  [[0.09,0.22],[0.2,0.04],[0.43,0.32],[0.3,0.4],[0.4,0.5],[0.15,0.35],[0.1,0.97],[0.18,0.95],[0.26,0.97],[0.34,0.95],[0.42,0.97],[0.5,0.95],[0.58,0.96],[0.08,0.88],[0.16,0.86],[0.24,0.88],[0.32,0.86],[0.4,0.88],[0.48,0.86],[0.08,0.79],[0.16,0.77],[0.24,0.79],[0.32,0.77],[0.4,0.78],[0.08,0.7],[0.16,0.68],[0.24,0.7],[0.32,0.67],[0.1,0.61],[0.18,0.59],[0.26,0.6],[0.12,0.52],[0.2,0.5],[0.12,0.44]],
  [[0.03,0.27],[0.07,0.22],[0.22,0.31],[0.4,0.31],[0.59,0.45],[0.16,0.6],[0.19,0.88],[0.03,0.04],[0.16,0.45],[0.25,0.5],[0.1,0.4],[0.25,0.97],[0.33,0.95],[0.41,0.97],[0.49,0.95],[0.57,0.97],[0.65,0.95],[0.73,0.97],[0.81,0.95],[0.89,0.97],[0.96,0.95],[0.22,0.87],[0.3,0.88],[0.38,0.86],[0.46,0.88],[0.54,0.86],[0.62,0.88],[0.7,0.86],[0.78,0.88],[0.86,0.86],[0.2,0.78],[0.28,0.76],[0.36,0.78],[0.44,0.76],[0.52,0.78],[0.6,0.76],[0.68,0.78],[0.2,0.68],[0.28,0.7],[0.36,0.68],[0.44,0.67],[0.52,0.65],[0.22,0.58],[0.3,0.6],[0.38,0.57],[0.2,0.5]]
];

// ══════════════════════════════════════════════════════
// 样式配置
// ══════════════════════════════════════════════════════
const FONT = "Liberation Sans, Arial, sans-serif";
const CONFIG = {
    rocA: { grid: { left: 150, top: 94, width: 522, height: 522 }, yNameGap: 68, xNameGap: 54,
            legend: { left: 444, top: 337, gap: 2.6 } },
    rocB: { grid: { left: 806, top: 94, width: 522, height: 522 }, yNameGap: 66, xNameGap: 54,
            legend: { left: 1100, top: 460, gap: 2.7 } },
    rocC: { grid: { left: 150, top: 770, width: 522, height: 522 }, yNameGap: 64, xNameGap: 52,
            legend: { left: 444, top: 1101, gap: 6 } },
    corr: { grid: { left: 798, top: 762, width: 532, height: 531 } },
};
var colorsA = ["#e8202a", "#4a66b8", "#3cc050", "#d8cf90", "#8a3a98", "#5a5af8", "#c84888", "#17603a", "#ff9a20", "#50c8cc", "#e8b4e8", "#9a9a9a", "#88b0e0"];
var colorsB = ["#e8202a", "#17603a", "#ff9a20", "#50c8cc", "#e8b4e8", "#9a9a9a", "#88b0e0"];
var colorsC = ["#1c6a3c", "#ffa030", "#8a3a98", "#3a50c8", "#a0a0a0", "#8ab8e0", "#e8202a", "#ecbcec"];

// ══════════════════════════════════════════════════════
// option 构建器
// ══════════════════════════════════════════════════════
function rocAxes(gi, cfg) {
    var common = {
        type: "value", gridIndex: gi, min: 0, max: 1, interval: 0.2,
        nameLocation: "middle", nameTextStyle: { fontSize: 35, color: "#111", fontFamily: FONT },
        axisLine: { lineStyle: { color: "#111", width: 1.5 } },
        axisTick: { inside: false, length: 5, lineStyle: { color: "#111", width: 1.5 } },
        axisLabel: { fontSize: 22, color: "#222", margin: 24, fontFamily: FONT,
                     formatter: function(v) { return v === 0 ? "0" : v.toFixed(1); } },
        splitLine: { show: false },
    };
    var x = Object.assign({}, common, { name: "1 \u2013 Specificity", nameGap: cfg.xNameGap });
    var y = Object.assign({}, common, { name: "Sensitivity", nameGap: cfg.yNameGap });
    return { x: x, y: y };
}

function rocSeries(gi, curves, names, aucs, colors, thickIdx) {
    var out = [];
    curves.forEach(function(c, i) {
        if (i === thickIdx) return;
        out.push({ type: "line", name: names[i] + ": " + aucs[i], xAxisIndex: gi, yAxisIndex: gi,
                   data: c, showSymbol: false, symbol: "none", animation: false,
                   lineStyle: { color: colors[i], width: 1.6 }, itemStyle: { color: colors[i] } });
    });
    // 对角参考线
    out.push({ type: "line", name: "diag" + gi, xAxisIndex: gi, yAxisIndex: gi, data: [[0, 0], [1, 1]],
               showSymbol: false, symbol: "none", animation: false, lineStyle: { color: "#333", width: 1 } });
    out.push({ type: "line", name: names[thickIdx] + ": " + aucs[thickIdx], xAxisIndex: gi, yAxisIndex: gi,
               data: curves[thickIdx], showSymbol: false, symbol: "none", animation: false,
               lineStyle: { color: colors[thickIdx], width: 3.6 }, itemStyle: { color: colors[thickIdx] } });
    return out;
}

function rocLegend(cfg, names, aucs, italicFirst) {
    var first = names[0] + ": " + aucs[0];
    return {
        orient: "vertical", left: cfg.legend.left, top: cfg.legend.top, itemGap: cfg.legend.gap,
        itemWidth: 22, itemHeight: 2, icon: "rect",
        data: names.map(function(n, i) { return n + ": " + aucs[i]; }),
        textStyle: { fontSize: 16, color: "#111", fontFamily: FONT, lineHeight: 18,
                     rich: { it: { fontStyle: "italic", fontSize: 16, fontFamily: FONT, color: "#111" } } },
        formatter: function(n) { return (italicFirst && n === first) ? "{it|" + n + "}" : n; },
    };
}

function corrColor(r) {
    var stops = [[-1, [255, 0, 0]], [-0.5, [250, 128, 114]], [0, [255, 255, 255]],
                 [0.5, [65, 105, 225]], [1, [0, 0, 128]]];
    for (var i = 0; i < stops.length - 1; i++) {
        var a = stops[i], b = stops[i + 1];
        if (r >= a[0] && r <= b[0]) {
            var t = (r - a[0]) / (b[0] - a[0]);
            var c = a[1].map(function(v, k) { return Math.round(v + (b[1][k] - v) * t); });
            return "rgb(" + c.join(",") + ")";
        }
    }
    return "#fff";
}

function buildCorrSeries() {
    var corrRows = [corrPD1, corrPDL1, corrPDL2, corrCTLA4, corrTMB, corrMeTIL, corr4meth];
    var scatRows = [[], scatPDL1, scatPDL2, scatCTLA4, scatTMB, scatMeTIL, scat4meth, scatGBP5];
    var pies = [];
    corrRows.forEach(function(row, i) {
        row.forEach(function(r, k) { pies.push([i + 1 + k, i, r]); });
    });
    var boxes = [];
    for (var i = 0; i < 8; i++) for (var j = 0; j <= i; j++) boxes.push([j, i]);
    var pts = [];
    scatRows.forEach(function(row, i) {
        row.forEach(function(cell, j) {
            cell.forEach(function(p) { pts.push([j + 0.03 + p[0] * 0.94, i + 0.97 - p[1] * 0.94]); });
        });
    });
    return [
        { type: "custom", xAxisIndex: 3, yAxisIndex: 3, data: boxes, clip: false, animation: false, silent: true,
          renderItem: function(params, api) {
              var p = api.coord([api.value(0), api.value(1)]);
              var s = api.size([1, 1]);
              return { type: "rect", shape: { x: p[0], y: p[1], width: Math.abs(s[0]), height: Math.abs(s[1]) },
                       style: { fill: "none", stroke: "#cccccc", lineWidth: 2 } };
          } },
        { type: "scatter", xAxisIndex: 3, yAxisIndex: 3, data: pts, symbol: "circle", symbolSize: 10,
          animation: false, silent: true,
          itemStyle: { color: "rgba(0,0,0,0)", borderColor: "#000", borderWidth: 2.4 } },
        { type: "custom", xAxisIndex: 3, yAxisIndex: 3, data: pies, clip: false, animation: false, silent: true,
          renderItem: function(params, api) {
              var col = api.value(0), row = api.value(1), r = api.value(2);
              var c = api.coord([col + 0.5, row + 0.5]);
              var s = api.size([1, 1]);
              var R = Math.min(Math.abs(s[0]), Math.abs(s[1])) * 0.465;
              var a0 = -Math.PI / 2, span = 2 * Math.PI * Math.abs(r);
              var start = r >= 0 ? a0 : a0 - span, end = r >= 0 ? a0 + span : a0;
              return { type: "group", children: [
                  { type: "circle", shape: { cx: c[0], cy: c[1], r: R },
                    style: { fill: "#fff", stroke: "#666", lineWidth: 1.6 } },
                  { type: "sector", shape: { cx: c[0], cy: c[1], r0: 0, r: R, startAngle: start, endAngle: end, clockwise: true },
                    style: { fill: corrColor(r), stroke: "#666", lineWidth: 1.6 } },
              ] };
          } },
    ];
}

function label(text, x, y, size) {
    return { type: "text", x: x, y: y, silent: true,
             style: { text: text, fontSize: size, fontFamily: FONT, fill: "#111",
                      align: "center", verticalAlign: "middle", textAlign: "center", textVerticalAlign: "middle" } };
}

function buildOption() {
    var A = rocAxes(0, CONFIG.rocA), B = rocAxes(1, CONFIG.rocB), C = rocAxes(2, CONFIG.rocC);
    var gridStyle = { show: true, borderColor: "#111", borderWidth: 1.5, backgroundColor: "transparent",
                      containLabel: false, outerBoundsMode: "none" };
    var grids = [CONFIG.rocA.grid, CONFIG.rocB.grid, CONFIG.rocC.grid].map(function(g) { return Object.assign({}, g, gridStyle); });
    grids.push(Object.assign({}, CONFIG.corr.grid, { show: false, containLabel: false, outerBoundsMode: "none" }));

    var curvesA = [curve4meth, aFourLnc, aBANCR, aCD24, aCD74, aEGFR, aEIF4E, aDNA17, aESR1, aHOXD9, aPTEN, aMGMT, aTNF];
    var curvesB = [bOur4meth, bDNA17, bESR1, bHOXD9, bPTEN, bMGMT, bTNF];
    var curvesC = [cPD1, cPDL1, cPDL2, cCTLA4, cTMB, cMeTIL, curve4meth, cGBP5];

    var series = []
        .concat(rocSeries(0, curvesA, namesA, aucA, colorsA, 0))
        .concat(rocSeries(1, curvesB, namesB, aucB, colorsB, 0))
        .concat(rocSeries(2, curvesC, namesC, aucC, colorsC, 6))
        .concat(buildCorrSeries());

    var catLabel = { fontSize: 15.5, color: "#222", fontFamily: FONT, interval: 0 };
    return {
        backgroundColor: "#fff",
        textStyle: { fontFamily: FONT },
        animation: false,
        grid: grids,
        xAxis: [A.x, B.x, C.x,
            { type: "value", gridIndex: 3, min: 0, max: 8, show: false },
            { type: "category", gridIndex: 3, data: signatures, position: "bottom",
              name: "Signatures", nameLocation: "middle", nameGap: 56,
              nameTextStyle: { fontSize: 34, color: "#111", fontFamily: FONT, padding: [0, 0, 0, 18] },
              axisLine: { show: false }, axisTick: { show: false }, axisLabel: Object.assign({ margin: 24 }, catLabel) }],
        yAxis: [A.y, B.y, C.y,
            { type: "value", gridIndex: 3, min: 0, max: 8, inverse: true, show: false, position: "left" },
            { type: "category", gridIndex: 3, data: rowLabels, inverse: true, position: "left", offset: 0,
              name: "Signatures", nameLocation: "middle", nameGap: 60,
              nameTextStyle: { fontSize: 34, color: "#111", fontFamily: FONT },
              axisLine: { show: false }, axisTick: { show: false },
              axisLabel: Object.assign({ margin: 22, rotate: 90 }, catLabel, { fontSize: 15 }) }],
        legend: [rocLegend(CONFIG.rocA, namesA, aucA, true),
                 rocLegend(CONFIG.rocB, namesB, aucB, false),
                 rocLegend(CONFIG.rocC, namesC, aucC, false)],
        graphic: [
            label("(A)", 65, 60, 34), label("Validation cohort", 412, 62, 34),
            label("(B)", 724, 60, 34), label("GEO GSE51547 cohort", 1067, 62, 34),
            label("(C)", 65, 745, 34), label("(D)", 723, 745, 34),
        ],
        series: series,
    };
}

// ══════════════════════════════════════════════════════
// 初始化
// ══════════════════════════════════════════════════════
var chart = echarts.init(document.getElementById("chart"), null, { renderer: "canvas" });
chart.setOption(buildOption());
</script>
</body>
</html>
